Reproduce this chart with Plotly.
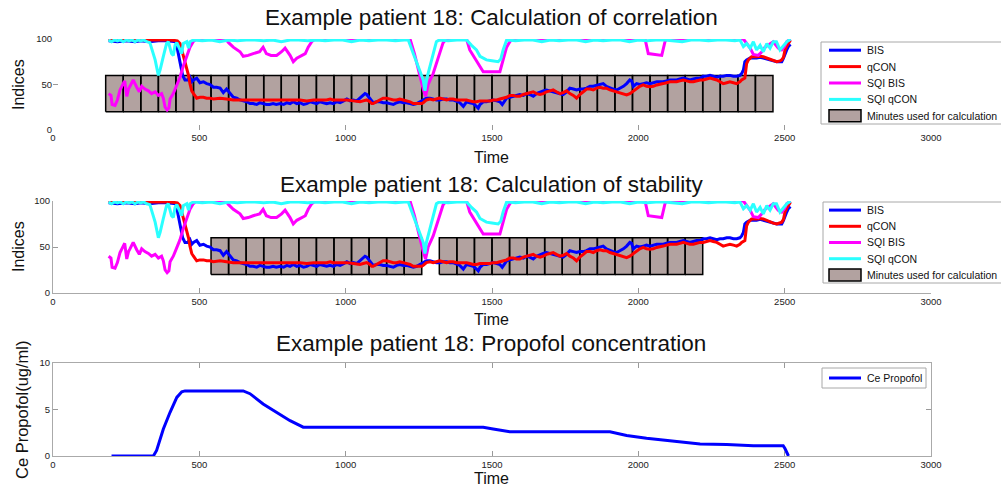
import plotly.graph_objects as go

# ---------------- data ----------------
t_bis = [190, 220, 250, 280, 300, 330, 360, 390, 420, 428, 434, 443, 451, 460, 468, 474, 480, 491, 502, 514,
         525, 537, 548, 559, 571, 582, 593, 605, 616, 628, 639, 650, 662, 673, 684, 696, 707, 718, 729, 740,
         752, 763, 776, 788, 799, 810, 821, 833, 844, 856, 867, 879, 890, 901, 912, 924, 935, 947, 958, 970,
         981, 993, 1004, 1015, 1026, 1038, 1049, 1060, 1066, 1072, 1083, 1094, 1106, 1117, 1128, 1140, 1151,
         1163, 1174, 1185, 1197, 1208, 1220, 1231, 1243, 1254, 1265, 1276, 1288, 1299, 1310, 1322, 1333, 1345,
         1356, 1367, 1379, 1390, 1402, 1413, 1424, 1436, 1447, 1453, 1459, 1470, 1481, 1493, 1504, 1516, 1527,
         1535, 1545, 1550, 1561, 1573, 1584, 1595, 1607, 1618, 1629, 1641, 1652, 1664, 1675, 1686, 1698, 1709,
         1720, 1732, 1743, 1755, 1766, 1778, 1789, 1800, 1812, 1823, 1835, 1846, 1857, 1869, 1880, 1891, 1903,
         1914, 1926, 1937, 1949, 1960, 1971, 1977, 1983, 1994, 2005, 2017, 2028, 2040, 2051, 2063, 2074, 2085,
         2097, 2108, 2120, 2131, 2142, 2154, 2165, 2176, 2188, 2199, 2211, 2222, 2233, 2245, 2256, 2268, 2279,
         2290, 2302, 2313, 2325, 2336, 2347, 2353, 2359, 2364, 2370, 2382, 2393, 2404, 2416, 2427, 2439, 2450,
         2461, 2473, 2484, 2490, 2496, 2501, 2507, 2513, 2520]
bis = [98, 97, 98, 97, 98, 97, 98, 98, 97, 85, 73, 60, 55, 55, 58, 53, 55, 57, 52, 53,
       51, 50, 47, 47, 46, 41, 45, 40, 36, 35, 33, 32, 31, 29, 29, 28, 30, 29, 28, 28,
       29, 28, 29, 28, 30, 29, 31, 29, 30, 28, 29, 31, 30, 29, 31, 30, 29, 30, 29, 31,
       30, 32, 34, 32, 33, 32, 35, 38, 40, 39, 34, 30, 31, 31, 30, 30, 29,
       28, 30, 31, 30, 30, 29, 28, 29, 31, 33, 35, 35, 34, 33, 33, 34, 34,
       33, 33, 31, 30, 26, 31, 30, 29, 26, 24, 28, 31, 31, 32, 33, 32, 31,
       28, 33, 35, 36, 37, 38, 39, 38, 40, 39, 37, 40, 42, 43, 44, 43, 42,
       41, 40, 39, 42, 46, 45, 44, 45, 45, 46, 48, 48, 49, 50, 51, 48, 46,
       45, 44, 46, 48, 51, 55, 54, 48, 51, 50, 51, 52, 51, 52, 53, 53, 53,
       54, 55, 55, 55, 56, 57, 56, 55, 56, 57, 57, 59, 59, 60, 59, 58, 59,
       59, 60, 60, 59, 59, 60, 62, 66, 75, 77, 79, 79, 79, 80, 79, 78, 77,
       76, 75, 75, 75, 79, 84, 88, 92, 94]

t_qcon = [190, 250, 300, 350, 400, 425, 434, 440, 451, 457, 463, 468, 474, 480, 485, 491, 502, 514, 525, 537,
          548, 571, 593, 616, 639, 662, 684, 707, 729, 752, 774, 799, 821, 844, 867, 890, 912, 935, 947, 958,
          981, 1004, 1026, 1049, 1060, 1072, 1083, 1089, 1094, 1106, 1117, 1128, 1140, 1151, 1163, 1174, 1185,
          1197, 1208, 1220, 1231, 1243, 1254, 1260, 1265, 1276, 1288, 1299, 1310, 1321, 1333, 1345, 1356, 1367,
          1379, 1390, 1402, 1413, 1424, 1436, 1447, 1459, 1470, 1482, 1493, 1504, 1516, 1527, 1538, 1550, 1561,
          1573, 1584, 1595, 1607, 1618, 1629, 1641, 1652, 1664, 1675, 1686, 1698, 1709, 1720, 1732, 1743, 1755,
          1766, 1778, 1789, 1800, 1812, 1823, 1835, 1846, 1857, 1869, 1880, 1891, 1903, 1914, 1926, 1937, 1949,
          1960, 1971, 1983, 1994, 2005, 2017, 2028, 2040, 2051, 2063, 2074, 2085, 2097, 2108, 2120, 2131, 2142,
          2154, 2165, 2176, 2188, 2199, 2211, 2222, 2233, 2245, 2256, 2268, 2279, 2290, 2302, 2313, 2325, 2336,
          2347, 2353, 2364, 2370, 2376, 2387, 2404, 2416, 2427, 2439, 2450, 2461, 2473, 2484, 2490, 2496, 2501,
          2507, 2513, 2520]
qcon = [99, 99, 99, 99, 99, 98, 95, 88, 75, 68, 60, 51, 43, 40, 37, 35, 36, 36, 35, 35,
        34, 35, 34, 33, 33, 33, 33, 33, 33, 33, 33, 33, 33, 33, 32, 33, 33, 33, 34, 33,
        33, 33, 32, 31, 32, 33, 31, 29, 29, 31, 33, 35, 35, 34, 33, 33, 34,
        33, 32, 31, 29, 29, 29, 29, 30, 33, 34, 33, 34, 35, 34, 33, 34, 34,
        33, 33, 33, 33, 32, 31, 31, 32, 32, 32, 32, 33, 33, 34, 35, 36, 38,
        38, 37, 37, 39, 40, 41, 42, 40, 39, 40, 42, 43, 44, 42, 40, 41, 43,
        40, 38, 35, 39, 42, 45, 45, 44, 46, 47, 46, 46, 44, 43, 42, 41, 40,
        38.5, 40, 43, 46, 48, 49.5, 48, 47.6, 48, 49.5, 50, 51, 52, 53, 53, 53, 54,
        55, 54, 53, 53, 54, 55, 55, 56, 57, 56, 55, 53, 51, 52, 53, 52, 51,
        53, 55, 57, 73, 77, 80.5, 80.5, 81, 80.5, 79, 77, 76, 75, 76, 77, 80, 88,
        92, 95, 99]

t_sqi_bis = [190, 198, 202, 212, 220, 229, 240, 245, 252, 258, 263, 274, 286, 295, 303, 314, 326, 337, 349, 360,
             371, 377, 383, 390, 396, 400, 411, 423, 434, 445, 457, 468, 479, 490, 590, 600, 616, 639, 650, 667,
             684, 706, 718, 729, 745, 764, 781, 793, 810, 821, 833, 850, 862, 872, 884, 895, 1220, 1235, 1248,
             1265, 1273, 1282, 1299, 1310, 1321, 1333, 1344, 1413, 1424, 1436, 1447, 1459, 1470, 1516, 1527, 1538,
             1550, 1561, 1570, 2023, 2034, 2080, 2091, 2097, 2359, 2382, 2393, 2410, 2422, 2433, 2450, 2461, 2478,
             2490, 2500, 2507, 2520]
sqi_bis = [40, 38, 28, 27, 33, 44, 51, 54, 37, 45, 48, 55, 47, 42, 48, 45, 43, 40, 42, 38,
           40, 35, 25, 22, 24, 34, 40, 50, 58, 70, 82, 91, 97, 100, 100, 96, 91, 86, 81, 82,
           84, 86, 91, 84, 82, 82, 86, 90, 82, 75, 79, 82, 84, 91, 97, 100, 100, 84, 66,
           45, 37, 50, 62, 73, 84, 96, 100, 100, 88, 82, 77, 70, 64, 64, 64, 77,
           91, 97, 100, 100, 84, 82, 97, 100, 100, 90, 83, 82, 86, 91, 95, 97, 90,
           88, 92, 97, 100]

t_sqi_qcon = [190, 200, 210, 220, 230, 240, 250, 260, 270, 280, 290, 300, 310, 320, 331, 340, 349, 360, 366, 377,
              388, 394, 400, 405, 411, 417, 423, 434, 440, 445, 457, 463, 468, 480, 510, 540, 570, 600, 630, 660,
              690, 720, 750, 780, 810, 840, 870, 900, 930, 960, 990, 1020, 1050, 1080, 1110, 1140, 1170, 1200,
              1214, 1231, 1248, 1265, 1271, 1276, 1288, 1299, 1310, 1320, 1350, 1380, 1413, 1430, 1447, 1459, 1470,
              1481, 1500, 1521, 1530, 1538, 1550, 1580, 1610, 1640, 1670, 1700, 1730, 1760, 1790, 1820, 1850, 1880,
              1910, 1940, 1970, 2000, 2030, 2060, 2090, 2120, 2150, 2180, 2210, 2240, 2270, 2300, 2330, 2347, 2359,
              2370, 2382, 2393, 2404, 2416, 2427, 2439, 2450, 2461, 2472, 2484, 2496, 2507, 2520]
sqi_qcon = [99, 97, 99, 98, 99, 97, 99, 98, 99, 97, 99, 98, 99, 97, 96, 85, 77, 60, 66, 81,
            95, 97, 91, 84, 82, 93, 96, 88, 84, 95, 97, 90, 97, 99, 98, 99, 97, 99, 98, 99,
            99, 98, 99, 97, 99, 99, 98, 99, 98, 99, 99, 97, 99, 98, 99, 99, 98, 99,
            99, 84, 70, 55, 43, 55, 70, 84, 97, 99, 98, 99, 99, 93, 88, 81, 79,
            77, 76, 75, 78, 88, 99, 98, 99, 99, 97, 99, 98, 99, 99, 97, 99, 98,
            99, 99, 97, 99, 98, 99, 99, 98, 97, 99, 99, 98, 99, 99, 98, 99, 91.6,
            95, 90, 97, 88, 93, 86, 95, 90, 97, 97, 88, 93, 97, 100]

# minute windows (start times, 60 s each)
corr_minutes = [180, 240, 300, 360, 420, 480, 540, 600, 660, 720, 780, 840, 900, 960, 1020, 1080, 1140, 1200,
                1260, 1320, 1380, 1440, 1500, 1560, 1620, 1680, 1740, 1800, 1860, 1920, 1980, 2040, 2100, 2160,
                2220, 2280, 2340, 2400]
stab_minutes = [540, 600, 660, 720, 780, 840, 900, 960, 1020, 1080, 1140, 1200,
                1320, 1380, 1440, 1500, 1560, 1620, 1680, 1740, 1800, 1860, 1920, 1980, 2040, 2100, 2160]
minute_len = 60
rect_low, rect_high = 20, 60

t_prop = [200, 343, 354, 377, 400, 423, 440, 451, 650, 673, 718, 764, 810, 855, 1470, 1504, 1561, 1903, 1960,
          2028, 2097, 2142, 2211, 2302, 2393, 2495, 2501, 2513]
ce_prop = [0, 0, 0.6, 2.9, 4.7, 6.3, 6.9, 7, 7, 6.7, 5.6, 4.7, 3.8, 3.1, 3.1, 2.9, 2.6, 2.6, 2.2,
           1.9, 1.7, 1.5, 1.3, 1.25, 1.1, 1.1, 0.8, 0]

x_ticks = [0, 500, 1000, 1500, 2000, 2500, 3000]
index_series_names = ["BIS", "qCON", "SQI BIS", "SQI qCON"]
minutes_name = "Minutes used for calculation"
propofol_name = "Ce Propofol"

# ---------------- styles ----------------
FONT = "Arial, Liberation Sans, sans-serif"
COLORS = {"BIS": "#0000ff", "qCON": "#ff0000", "SQI BIS": "#ff00ff", "SQI qCON": "#2affff",
          "Ce Propofol": "#0000ff"}
RECT_FILL = "#b2a2a0"
LW = 3

W, H = 1001, 488
fig = go.Figure()


def rect_path(starts):
    xs, ys = [], []
    for s in starts:
        xs += [s, s + minute_len, s + minute_len, s, s, None]
        ys += [rect_low, rect_low, rect_high, rect_high, rect_low, None]
    return xs, ys


series = {"BIS": (t_bis, bis), "qCON": (t_qcon, qcon), "SQI BIS": (t_sqi_bis, sqi_bis),
          "SQI qCON": (t_sqi_qcon, sqi_qcon)}


def add_panel(xa, ya, starts):
    rx, ry = rect_path(starts)
    fig.add_trace(go.Scatter(x=rx, y=ry, mode="lines", fill="toself", fillcolor=RECT_FILL,
                             line=dict(color="black", width=1.5), name=minutes_name,
                             xaxis=xa, yaxis=ya, showlegend=False))
    for n in index_series_names:
        t, v = series[n]
        fig.add_trace(go.Scatter(x=t, y=v, mode="lines", line=dict(color=COLORS[n], width=LW), name=n,
                                 xaxis=xa, yaxis=ya, showlegend=False))


add_panel("x", "y", corr_minutes)
add_panel("x2", "y2", stab_minutes)
fig.add_trace(go.Scatter(x=t_prop, y=ce_prop, mode="lines", line=dict(color=COLORS[propofol_name], width=LW),
                         name=propofol_name, xaxis="x3", yaxis="y3", showlegend=False))

xdom = [53 / W, 931 / W]


def ydom(top, bottom):
    return [1 - bottom / H, 1 - top / H]


tickfont = dict(family=FONT, size=9.5, color="#222")
common_x = dict(domain=xdom, range=[0, 3000], tickvals=x_ticks, ticks="inside", ticklen=5,
                tickcolor="#999", tickfont=tickfont, showgrid=False, zeroline=False, linecolor="#aaa")
common_y = dict(ticks="inside", ticklen=5, tickcolor="#999", tickfont=tickfont, showgrid=False,
                zeroline=False, linecolor="#aaa")

fig.update_layout(
    width=W, height=H, margin=dict(l=0, r=0, t=0, b=0, autoexpand=False),
    paper_bgcolor="white", plot_bgcolor="white", showlegend=False,
    xaxis=dict(common_x, anchor="y", showline=False),
    yaxis=dict(common_y, domain=ydom(39, 130), range=[0, 100], tickvals=[0, 50, 100], anchor="x", showline=False),
    xaxis2=dict(common_x, anchor="y2", showline=True),
    yaxis2=dict(common_y, domain=ydom(201, 293), range=[0, 100], tickvals=[0, 50, 100], anchor="x2", showline=True),
    xaxis3=dict(common_x, anchor="y3", showline=True, mirror="allticks"),
    yaxis3=dict(common_y, domain=ydom(363, 456), range=[0, 10], tickvals=[0, 5, 10], anchor="x3",
                showline=True, mirror="allticks"),
)


# ---------------- legends (boxes drawn in paper space) ----------------
def px(x):
    return x / W


def py(y):
    return 1 - y / H


def add_legend(left, top, bottom, right, entries):
    fig.add_shape(type="rect", xref="paper", yref="paper", x0=px(left), x1=px(right), y0=py(bottom), y1=py(top),
                  line=dict(color="#a8a8a8", width=1), fillcolor="white", layer="above")
    n = len(entries)
    step = (bottom - top) / n
    for i, name in enumerate(entries):
        yc = top + step * (i + 0.5)
        if name == minutes_name:
            fig.add_shape(type="rect", xref="paper", yref="paper", x0=px(829), x1=px(861),
                          y0=py(yc + 6), y1=py(yc - 6), line=dict(color="black", width=1.5),
                          fillcolor=RECT_FILL, layer="above")
        else:
            fig.add_shape(type="line", xref="paper", yref="paper", x0=px(829), x1=px(861), y0=py(yc), y1=py(yc),
                          line=dict(color=COLORS[name], width=LW), layer="above")
        fig.add_annotation(text=name, x=px(865), y=py(yc), xref="paper", yref="paper", xanchor="left",
                           yanchor="middle", showarrow=False, font=dict(family=FONT, size=10.5, color="#111"))


add_legend(821, 42, 124, 1006, index_series_names + [minutes_name])
add_legend(823, 202, 283, 1006, index_series_names + [minutes_name])
add_legend(822, 368, 388, 926, [propofol_name])

anns = [
    ("Example patient 18: Calculation of correlation", 491, 18, 22.5, 0),
    ("Example patient 18: Calculation of stability", 491, 184, 22.5, 0),
    ("Example patient 18: Propofol concentration", 491, 343, 22.5, 0),
    ("Time", 491, 157, 16, 0),
    ("Time", 491, 319, 16, 0),
    ("Time", 491, 478, 16, 0),
    ("Indices", 18, 85, 16, -90),
    ("Indices", 18, 247, 16, -90),
    ("Ce Propofol(ug/ml)", 22, 410, 16.5, -90),
]
for text, x, y, size, ang in anns:
    fig.add_annotation(text=text, x=px(x), y=py(y), xref="paper", yref="paper",
                       xanchor="center", yanchor="middle", showarrow=False, textangle=ang,
                       font=dict(family=FONT, size=size, color="#111"))

fig.write_html("out.html", config={"displayModeBar": False},
               post_script="document.body.style.margin='0';document.body.style.overflow='hidden';")
